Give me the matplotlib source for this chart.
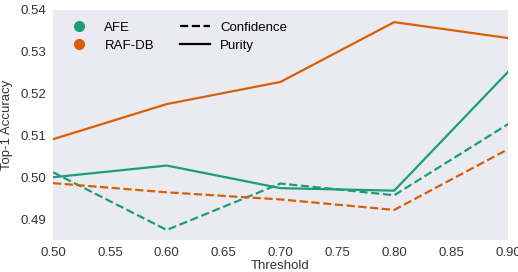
import matplotlib
matplotlib.use("Agg")
import matplotlib.pyplot as plt
from matplotlib.lines import Line2D

# threshold values
thresholds = [0.5, 0.6, 0.7, 0.8, 0.9]

# Top-1 accuracy
afe_purity = [0.5000, 0.5028, 0.4974, 0.4968, 0.5252]
afe_confidence = [0.5012, 0.4874, 0.4985, 0.4957, 0.5127]
raf_purity = [0.5091, 0.5175, 0.5228, 0.5371, 0.5333]
raf_confidence = [0.4986, 0.4964, 0.4947, 0.4922, 0.5067]

green = "#1b9e77"
orange = "#d95f02"

plt.rcParams['font.family'] = ['Liberation Sans', 'DejaVu Sans']

fig = plt.figure(figsize=(5.18, 2.72), dpi=100)
ax = fig.add_axes([53/518, 32/272, 455/518, 230/272])
ax.set_facecolor("#eaeaf2")
for s in ax.spines.values():
    s.set_visible(False)

ax.plot(thresholds, afe_purity, '-', color=green, lw=1.6)
ax.plot(thresholds, afe_confidence, '--', color=green, lw=1.6)
ax.plot(thresholds, raf_purity, '-', color=orange, lw=1.6)
ax.plot(thresholds, raf_confidence, '--', color=orange, lw=1.6)

ax.set_xlim(0.5, 0.9)
ax.set_ylim(0.485, 0.54)
ax.set_xticks([0.5, 0.55, 0.6, 0.65, 0.7, 0.75, 0.8, 0.85, 0.9])
ax.set_yticks([0.49, 0.50, 0.51, 0.52, 0.53, 0.54])
ax.set_xticklabels(["0.50", "0.55", "0.60", "0.65", "0.70", "0.75", "0.80", "0.85", "0.90"])
ax.set_yticklabels(["0.49", "0.50", "0.51", "0.52", "0.53", "0.54"])
ax.tick_params(length=0, labelsize=9.5, colors="#333333", pad=5)
ax.set_xlabel("Threshold", fontsize=9.5, color="#333333", labelpad=1)
ax.set_ylabel("Top-1 Accuracy", fontsize=9.5, color="#333333", labelpad=5)

handles = [
    Line2D([], [], marker='o', ls='', color=green, markersize=7),
    Line2D([], [], marker='o', ls='', color=orange, markersize=7),
    Line2D([], [], ls='--', color='black', lw=1.6),
    Line2D([], [], ls='-', color='black', lw=1.6),
]
labels = ["AFE", "RAF-DB", "Confidence", "Purity"]
ax.legend(handles, labels, ncol=2, frameon=False, loc="upper left",
          fontsize=9.5, handlelength=2.2, columnspacing=2.0,
          labelspacing=0.4, bbox_to_anchor=(0.0, 1.0))

fig.savefig("out.png", dpi=100)
